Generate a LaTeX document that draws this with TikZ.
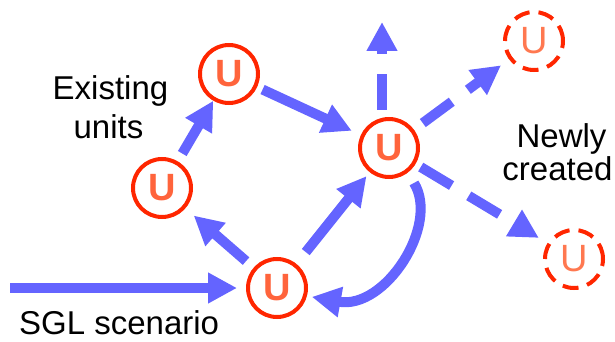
\documentclass[tikz,border=0pt]{standalone}
\usepackage{fontspec}
\setmainfont{Liberation Sans}
\usetikzlibrary{arrows.meta}
\definecolor{ured}{RGB}{255,38,0}
\definecolor{ufill}{RGB}{255,100,60}
\definecolor{ufilllight}{RGB}{255,120,80}
\definecolor{ablue}{RGB}{100,100,255}
\tikzset{
  unit/.style={circle, draw=ured, line width=4pt, minimum size=58pt, inner sep=0pt,
    text=ufill, font=\fontsize{38}{38}\selectfont\bfseries},
  newunit/.style={unit, dash pattern=on 16pt off 9pt, text=ufilllight,
    font=\fontsize{38}{38}\selectfont},
  label/.style={anchor=base, font=\fontsize{33}{38}\selectfont, inner sep=0pt},
  flow/.style={draw=ablue, line width=10pt, -{Triangle[length=29pt,width=29pt]}},
  newflow/.style={flow, dash pattern=on 36pt off 20pt},
}
\begin{document}
\begin{tikzpicture}[x=1pt,y=-1pt]
\useasboundingbox (0,0) rectangle (615,342);
% units
\node[unit] (TU) at (229,74) {U};
\node[unit] (LU) at (162,188) {U};
\node[unit] (BU) at (277,288) {U};
\node[unit] (RU) at (389,148) {U};
\node[newunit] (TR) at (534,41) {U};
\node[newunit] (BR) at (574,259) {U};
% labels
\node[label] (ex) at (110.5,100) {Existing};
\node[label] (un) at (108.5,138) {units};
\node[label] (nw) at (561.5,147) {Newly};
\node[label] (cr) at (557.5,180) {created};
\node[label, anchor=base west] (sgl) at (19,334) {SGL scenario};
% free ends
\coordinate (sglstart) at (10,288);
\coordinate (upend) at (382,22);
% arrows
\draw[flow, shorten >=9pt] (sglstart) -- (BU);
\draw[flow, shorten <=9pt] (LU) -- (TU);
\draw[flow, shorten <=10pt, shorten >=11pt] (BU) -- (LU);
\draw[flow, shorten <=6pt, shorten >=10pt] (TU) -- (RU);
\draw[flow, shorten <=15pt, shorten >=5pt] (BU) -- (RU);
\draw[flow, shorten <=12pt, shorten >=5pt] (RU.-53) .. controls (440,225) and (385,310) .. (BU.-15);
\draw[newflow, shorten <=7pt] ([xshift=-7pt]RU.north) -- (upend);
\draw[newflow, shorten <=11pt, shorten >=10pt] (RU) -- (TR);
\draw[newflow, shorten <=6pt, shorten >=10pt] (RU) -- (BR);
\end{tikzpicture}
\end{document}
